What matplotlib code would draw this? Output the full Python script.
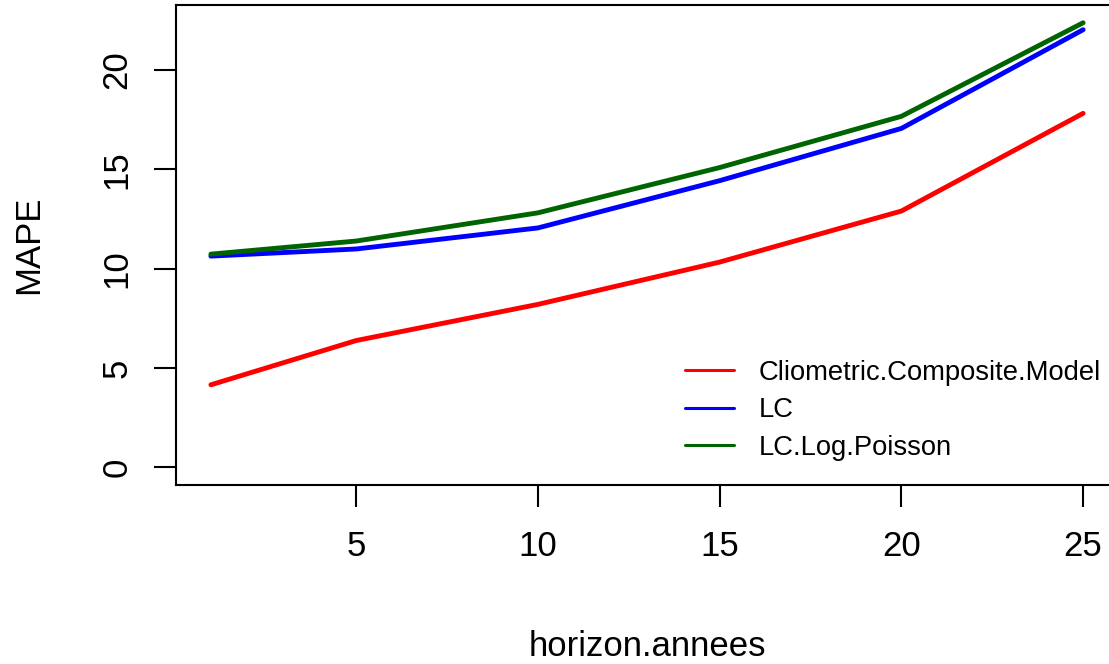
import matplotlib
matplotlib.use("Agg")
import matplotlib.pyplot as plt

plt.rcParams['font.family'] = ['Liberation Sans', 'DejaVu Sans']

horizon = [1, 5, 10, 15, 20, 25]
ccm = [4.15, 6.38, 8.2, 10.33, 12.9, 17.82]
lc = [10.63, 10.99, 12.05, 14.43, 17.06, 22.03]
lclp = [10.73, 11.39, 12.81, 15.09, 17.67, 22.38]
series_names = ["Cliometric.Composite.Model", "LC", "LC.Log.Poisson"]
colors = ["#FF0000", "#0000FF", "#006400"]
xticks = [5, 10, 15, 20, 25]
yticks = [0, 5, 10, 15, 20]

W, H = 1109, 664
fig = plt.figure(figsize=(W/100, H/100), dpi=100)
ax = fig.add_axes([176/W, 1-485/H, (1118-176)/W, (485-5)/H])

for vals, name, c in zip([ccm, lc, lclp], series_names, colors):
    ax.plot(horizon, vals, color=c, lw=3.5, solid_capstyle='round', label=name)

xmin, xmax = min(horizon), max(horizon)
ax.set_xlim(xmin - 0.04*(xmax-xmin), xmax + 0.04*(xmax-xmin))
ymax = max(lclp)
ax.set_ylim(0 - 0.04*ymax, ymax + 0.04*ymax)

ax.set_xticks(xticks)
ax.set_yticks(yticks)
ax.tick_params(axis='both', length=15.5, width=1.5, labelsize=25, direction='out')
ax.tick_params(axis='x', pad=17)
ax.tick_params(axis='y', pad=15)
for lab in ax.get_yticklabels():
    lab.set_rotation(90)
    lab.set_va('center')

for s in ax.spines.values():
    s.set_linewidth(1.5)

fig.text(647/W, 1-646/H, "horizon.annees", fontsize=25, ha='center', va='center')
fig.text(29/W, 1-245/H, "MAPE", fontsize=25, ha='center', va='center', rotation=90)

leg = ax.legend(loc='upper left', bbox_to_anchor=(685/W, 1-360/H),
                bbox_transform=fig.transFigure, frameon=False, fontsize=19.7,
                handlelength=1.8, handletextpad=0.9, labelspacing=0.42,
                borderpad=0, borderaxespad=0)
for line in leg.get_lines():
    line.set_linewidth(2.2)

fig.savefig("out.png", dpi=100)
